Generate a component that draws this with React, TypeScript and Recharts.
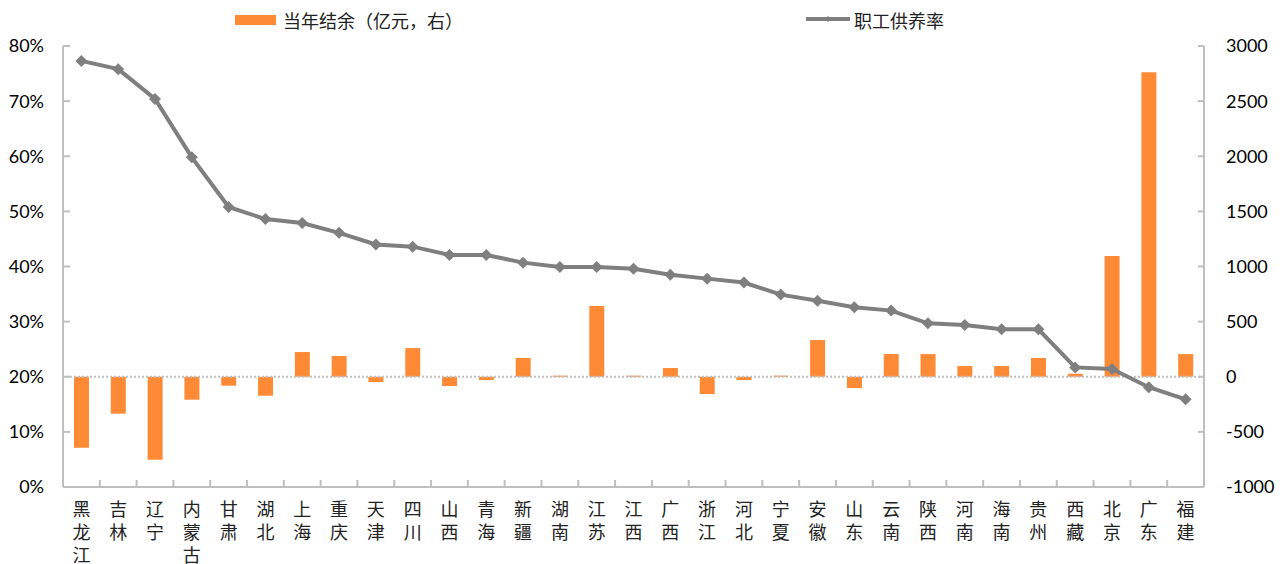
import { ComposedChart, Bar, Line, XAxis, YAxis, ReferenceLine } from "recharts"

const provinces = [
  "黑龙江", "吉林", "辽宁", "内蒙古", "甘肃", "湖北", "上海", "重庆", "天津", "四川",
  "山西", "青海", "新疆", "湖南", "江苏", "江西", "广西", "浙江", "河北", "宁夏",
  "安徽", "山东", "云南", "陕西", "河南", "海南", "贵州", "西藏", "北京", "广东", "福建",
]

// 当年结余（亿元）
const surplus = [
  -644, -335, -753, -208, -81, -172, 224, 188, -48, 260,
  -84, -30, 170, 10, 642, 10, 79, -157, -30, 10,
  333, -103, 206, 206, 97, 97, 170, 27, 1095, 2763, 206,
]

// 职工供养率（%）
const supportRatio = [
  77.3, 75.8, 70.4, 59.8, 50.8, 48.6, 47.9, 46.1, 44.0, 43.6,
  42.1, 42.1, 40.7, 39.9, 39.9, 39.6, 38.5, 37.8, 37.1, 34.9,
  33.8, 32.6, 32.0, 29.7, 29.4, 28.6, 28.6, 21.7, 21.4, 18.1, 15.9,
]

const leftTicks = [0, 10, 20, 30, 40, 50, 60, 70, 80]
const rightTicks = [-1000, -500, 0, 500, 1000, 1500, 2000, 2500, 3000]

const data = provinces.map((name, i) => ({ name, surplus: surplus[i], ratio: supportRatio[i] }))

const W = 1285
const H = 564
const LEFT_W = 63
const RIGHT_W = 81
const BAND = (W - LEFT_W - RIGHT_W) / provinces.length

const axisColor = "#bfbfbf"
const tickFont = { fontFamily: "Lato, 'Open Sans', sans-serif", fontSize: 18, fill: "#000" }
const cjkFont = "'Noto Sans CJK SC', sans-serif"

const Diamond = (props: any) => {
  const { cx, cy } = props
  if (cx == null || cy == null) return null
  const r = 6
  return (
    <path
      d={`M${cx},${cy - r} L${cx + r},${cy} L${cx},${cy + r} L${cx - r},${cy} Z`}
      fill="#7f7f7f"
    />
  )
}

// vertical labels, one character per row, with tick marks between categories
const CategoryTick = (props: any) => {
  const { x, y, payload, index } = props
  const chars = String(payload.value).split("")
  return (
    <g>
      {index < provinces.length - 1 && (
        <line x1={x + BAND / 2} x2={x + BAND / 2} y1={y} y2={y - 7} stroke={axisColor} strokeWidth={2} />
      )}
      {chars.map((c, i) => (
        <text key={i} x={x} y={y + 29 + i * 23} textAnchor="middle" fontFamily={cjkFont} fontSize={18} fill="#222">
          {c}
        </text>
      ))}
    </g>
  )
}

export default function App() {
  return (
    <div style={{ position: "absolute", left: 0, top: 0, width: W, height: H, background: "#fff" }}>
      <ComposedChart width={W} height={H} data={data} margin={{ top: 46, right: 0, bottom: 0, left: 0 }}>
        <XAxis
          dataKey="name"
          height={77}
          interval={0}
          tickLine={false}
          tickSize={0}
          tickMargin={0}
          axisLine={{ stroke: axisColor, strokeWidth: 2 }}
          tick={<CategoryTick />}
        />
        <YAxis
          yAxisId="left"
          orientation="left"
          width={LEFT_W}
          domain={[0, 80]}
          ticks={leftTicks}
          tickFormatter={(v: number) => `${v}%`}
          axisLine={{ stroke: axisColor, strokeWidth: 2 }}
          tickLine={{ stroke: axisColor, strokeWidth: 2 }}
          tickSize={-7}
          tickMargin={26}
          tick={tickFont}
          allowDataOverflow
        />
        <YAxis
          yAxisId="right"
          orientation="right"
          width={RIGHT_W}
          domain={[-1000, 3000]}
          ticks={rightTicks}
          axisLine={{ stroke: axisColor, strokeWidth: 2 }}
          tickLine={{ stroke: axisColor, strokeWidth: 2 }}
          tickSize={-6}
          tickMargin={28}
          tick={{ ...tickFont, textAnchor: "start" }}
          allowDataOverflow
        />
        <Bar yAxisId="right" dataKey="surplus" fill="#ff8a36" barSize={15} isAnimationActive={false} />
        <ReferenceLine yAxisId="right" y={0} stroke={axisColor} strokeWidth={2} strokeDasharray="2 2" />
        <Line
          yAxisId="left"
          dataKey="ratio"
          type="linear"
          stroke="#7f7f7f"
          strokeWidth={4}
          dot={<Diamond />}
          activeDot={false}
          isAnimationActive={false}
        />
      </ComposedChart>

      <div style={{ position: "absolute", left: 235, top: 15, width: 41, height: 10, background: "#ff8a36" }} />
      <div
        style={{
          position: "absolute", left: 283, top: 8, fontFamily: cjkFont, fontSize: 18,
          color: "#222", lineHeight: "24px", whiteSpace: "nowrap",
        }}
      >
        当年结余（亿元，右）
      </div>
      <svg style={{ position: "absolute", left: 804, top: 12 }} width={48} height={14}>
        <line x1={2} x2={46} y1={7} y2={7} stroke="#7f7f7f" strokeWidth={4} />
        <path d="M24,4 L27,7 L24,10 L21,7 Z" fill="#7f7f7f" />
      </svg>
      <div
        style={{
          position: "absolute", left: 854, top: 8, fontFamily: cjkFont, fontSize: 18,
          color: "#222", lineHeight: "24px", whiteSpace: "nowrap",
        }}
      >
        职工供养率
      </div>
    </div>
  )
}
